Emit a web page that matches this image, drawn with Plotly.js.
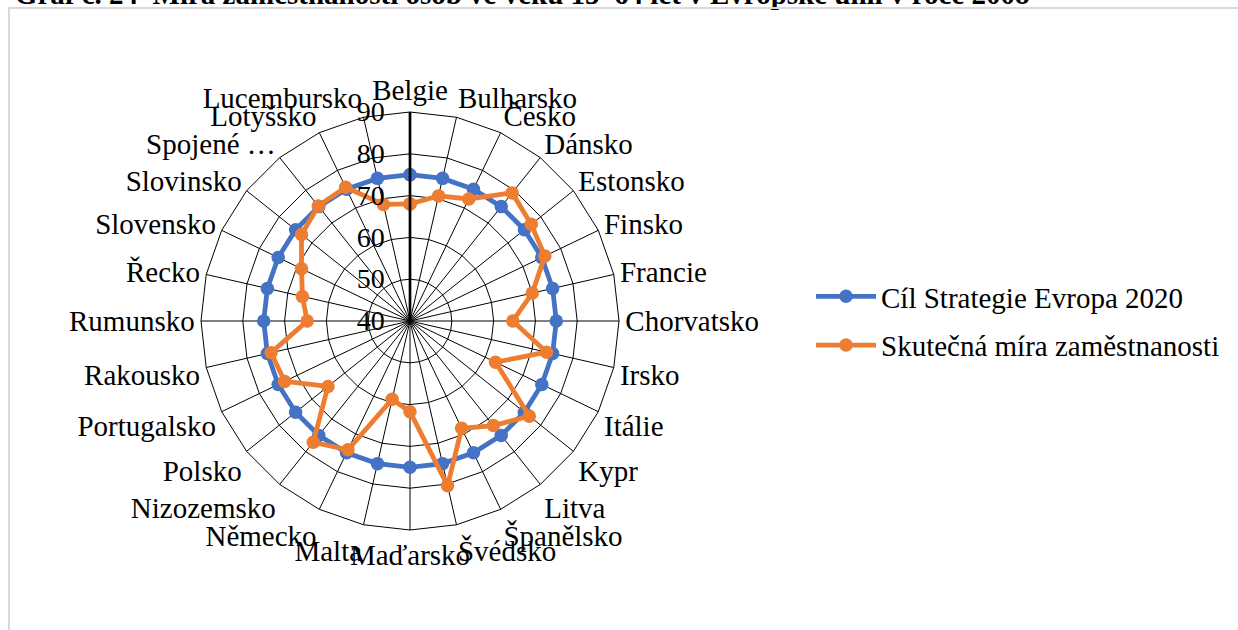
<!DOCTYPE html>
<html>
<head>
<meta charset="utf-8">
<script src="https://cdn.plot.ly/plotly-3.0.1.min.js"></script>
<style>
  html, body { margin: 0; padding: 0; background: #fff; }
  #wrap { position: relative; width: 1238px; height: 630px; overflow: hidden; }
  #chart { position: absolute; left: 0; top: -6px; width: 1238px; height: 636px; }
  #frame { position: absolute; left: 8px; top: 7px; width: 1300px; height: 700px;
           border-left: 2px solid #d9d9d9; border-top: 2px solid #d9d9d9; pointer-events: none; }
</style>
</head>
<body>
<div id="wrap">
<div id="chart"></div>
<div id="frame"></div>
</div>
<script>
const chartTitle = "Graf č. 24  Míra zaměstnanosti osob ve věku 15–64 let v Evropské unii v roce 2008";
const categories = ["Belgie", "Bulharsko", "Česko", "Dánsko", "Estonsko", "Finsko", "Francie",
  "Chorvatsko", "Irsko", "Itálie", "Kypr", "Litva", "Španělsko", "Švédsko", "Maďarsko", "Malta",
  "Německo", "Nizozemsko", "Polsko", "Portugalsko", "Rakousko", "Rumunsko", "Řecko", "Slovensko",
  "Slovinsko", "Spojené …", "Lotyšsko", "Lucembursko"];
const seriesNames = ["Cíl Strategie Evropa 2020", "Skutečná míra zaměstnanosti"];
const targetValues = [75, 75, 75, 75, 75, 75, 75, 75, 75, 75, 75, 75, 75, 75,
  75, 75, 75, 75, 75, 75, 75, 75, 75, 75, 75, 75, 75, 75];
const actualValues = [68.0, 70.7, 72.4, 79.2, 77.1, 75.8, 70.0, 64.6, 73.5, 62.7, 76.5, 72.0, 68.5, 80.4,
  61.7, 59.2, 74.2, 77.1, 65.1, 73.3, 74.1, 64.6, 66.4, 68.8, 73.2, 75.2, 75.5, 68.6];
const radialTicks = [40, 50, 60, 70, 80, 90];

function closeLoop(arr) { return arr.concat([arr[0]]); }

const font = "Liberation Serif, Times New Roman, serif";
const colors = ["#4472C4", "#ED7D31"];
const fs = 29;

const traces = [targetValues, actualValues].map((vals, i) => ({
  type: "scatterpolar",
  mode: "lines+markers",
  name: seriesNames[i],
  legendgroup: "g" + i,
  r: closeLoop(vals),
  theta: closeLoop(categories),
  line: { color: colors[i], width: 4.8 },
  marker: { color: colors[i], size: 13.5 },
  cliponaxis: false,
  hoverinfo: "skip"
}));

const off = 6;
const cx = 410, cy = 321 + off, R = 209, W = 1238, H = 630 + off;

const layout = {
  width: W, height: H,
  margin: { l: 0, r: 0, t: 0, b: 0 },
  paper_bgcolor: "#ffffff",
  font: { family: font, size: fs, color: "#000" },
  title: {
    text: "<b>" + chartTitle + "</b>",
    font: { family: font, size: fs, color: "#000" },
    xref: "container", yref: "container",
    x: 0.012, xanchor: "left",
    y: 1.0, yanchor: "middle"
  },
  showlegend: true,
  legend: {
    x: 811 / W, xanchor: "left",
    y: (H - cy) / H, yanchor: "middle",
    font: { family: font, size: fs, color: "#000" },
    itemwidth: 60,
    tracegroupgap: 8,
    bgcolor: "rgba(0,0,0,0)"
  },
  polar: {
    domain: { x: [(cx - R) / W, (cx + R) / W], y: [(H - cy - R) / H, (H - cy + R) / H] },
    bgcolor: "#ffffff",
    gridshape: "linear",
    angularaxis: {
      type: "category",
      categoryarray: categories,
      direction: "clockwise",
      rotation: 90,
      showline: true, linecolor: "#000", linewidth: 1,
      gridcolor: "#000", gridwidth: 1,
      ticks: "",
      tickfont: { family: font, size: fs, color: "#000" }
    },
    radialaxis: {
      range: [40, 90],
      tickvals: radialTicks,
      ticktext: radialTicks.map(v => String(v) + "\u00a0\u00a0"),
      angle: 90,
      side: "counterclockwise",
      tickangle: 90,
      showline: true, linecolor: "#000", linewidth: 2.7,
      gridcolor: "#000", gridwidth: 1,
      ticks: "",
      tickfont: { family: font, size: 28, color: "#000" }
    }
  }
};

Plotly.newPlot("chart", traces, layout, { staticPlot: true, displayModeBar: false });
</script>
</body>
</html>
